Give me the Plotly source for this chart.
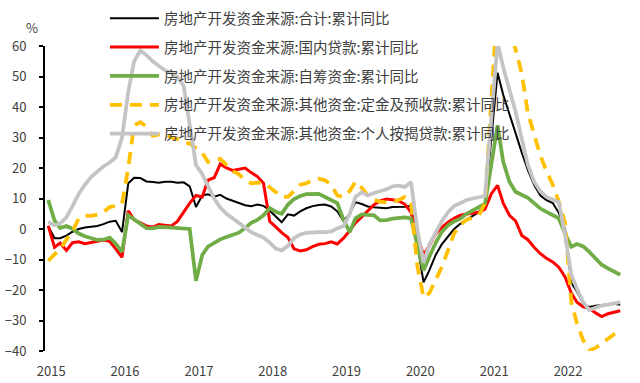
import pandas as pd
import plotly.graph_objects as go

# Monthly observations, Jan 2015 - Oct 2022
months = pd.date_range("2015-01-01", "2022-10-01", freq="MS")

series_names = [
    "房地产开发资金来源:合计:累计同比",
    "房地产开发资金来源:国内贷款:累计同比",
    "房地产开发资金来源:自筹资金:累计同比",
    "房地产开发资金来源:其他资金:定金及预收款:累计同比",
    "房地产开发资金来源:其他资金:个人按揭贷款:累计同比",
]

total = [
    1.0, -3.0, -3.0, -2.2, -0.9, 0.0, 0.5, 0.8, 1.0, 1.6, 2.4, 2.7,
    -1.0, 15.0, 16.8, 16.7, 15.6, 15.4, 15.2, 15.5, 15.5, 15.2, 15.3, 14.0,
    7.2, 11.0, 11.4, 10.6, 11.2, 10.0, 9.2, 8.6, 7.8, 7.5, 8.0, 7.6,
    6.0, 4.0, 2.2, 4.8, 4.4, 5.8, 6.8, 7.5, 7.9, 8.0, 7.4, 5.8,
    2.6, 5.0, 8.8, 8.2, 7.4, 7.1, 7.0, 6.8, 7.2, 7.2, 7.3, 7.6,
    -5.0, -17.5, -13.5, -8.5, -5.0, -2.3, 0.0, 1.7, 3.1, 4.4, 5.6, 8.1,
    29.5, 51.2, 44.0, 38.0, 31.5, 25.0, 19.3, 14.5, 11.0, 9.5, 8.5, 5.3,
    0.0, -17.7, -20.5, -24.5, -25.6, -25.2, -24.9, -24.6, -24.5, -24.8,
]

domestic_loans = [
    1.0, -6.0, -4.6, -7.0, -4.5, -4.2, -4.8, -4.3, -4.0, -3.6, -4.0, -6.5,
    -9.3, 6.0, 3.0, 2.0, 1.0, 0.6, 1.5, 1.2, 1.0, 2.5, 5.5, 8.5,
    11.0, 10.5, 16.0, 16.8, 21.3, 20.0, 19.2, 19.5, 20.0, 18.5, 17.2, 15.0,
    2.5, 0.6, -1.2, -2.8, -6.5, -7.2, -6.8, -5.8, -5.0, -4.8, -4.2, -4.9,
    -3.0, -0.5, 2.0, 4.0, 6.0, 8.0, 9.2, 9.8, 9.6, 9.2, 8.1, 5.5,
    -2.0, -8.5, -5.4, -1.5, 0.5, 2.2, 3.5, 4.5, 4.9, 5.2, 5.5, 6.5,
    11.5, 14.3, 8.5, 4.5, 2.7, -2.1, -3.5, -6.0, -8.1, -9.6, -10.8, -12.5,
    -15.7, -21.0, -24.0, -25.5, -26.0, -27.5, -28.7, -27.8, -27.2, -26.8,
]

self_raised = [
    9.5, 2.8, 0.3, 1.0, 0.1, -1.5, -2.4, -3.1, -3.6, -3.5, -2.8, -4.8,
    -7.5, 4.5, 3.2, 1.5, 0.3, 0.2, 0.7, 0.6, 0.5, 0.3, 0.2, 0.0,
    -17.0, -8.5, -5.8, -4.5, -3.4, -2.6, -1.9, -1.2, 0.3, 2.0, 3.0, 4.5,
    6.8, 5.6, 5.0, 8.0, 9.8, 10.8, 11.4, 11.6, 11.5, 10.5, 9.5, 8.5,
    3.0, -1.0, 3.5, 4.8, 4.6, 4.5, 2.8, 2.9, 3.4, 3.6, 3.8, 3.5,
    -5.0, -13.6, -9.0, -4.5, -1.0, 1.2, 2.5, 3.4, 5.0, 6.2, 7.2, 8.3,
    21.0, 34.0, 22.0, 15.5, 12.2, 11.2, 10.2, 8.5, 6.7, 5.6, 4.6, 3.5,
    -1.5, -5.8, -4.9, -5.7, -7.5, -9.8, -11.7, -12.9, -13.8, -15.0,
]

deposits_prepayments = [
    -10.4, -8.2, -6.5, -3.5, -0.8, 3.5, 4.4, 4.3, 4.7, 5.5, 7.2, 7.6,
    8.2, 20.0, 34.0, 35.0, 33.5, 30.5, 31.0, 31.0, 30.0, 29.5, 28.5, 28.0,
    26.5, 25.0, 22.0, 22.5, 23.0, 21.0, 19.0, 18.0, 16.0, 15.0, 15.2, 15.0,
    13.7, 12.0, 10.5, 10.5, 12.5, 14.5, 15.0, 16.0, 16.5, 16.0, 14.5, 11.0,
    10.5, 12.5, 15.5, 13.5, 11.0, 9.5, 9.0, 8.7, 8.9, 9.5, 10.5, 8.5,
    -12.0, -22.5, -21.0, -17.0, -12.5, -7.0, -1.5, 1.5, 3.0, 3.7, 4.5, 8.5,
    41.0, 75.0, 70.0, 65.0, 59.0, 51.0, 38.0, 31.0, 24.0, 19.0, 14.5, 9.0,
    2.0, -24.0, -31.0, -36.5, -39.8, -39.0, -37.5, -35.8, -34.5, -33.8,
]

mortgages = [
    2.3, 1.2, 1.8, 3.8, 7.5, 11.5, 14.5, 17.0, 18.8, 20.5, 21.8, 23.5,
    30.0, 45.0, 55.0, 58.5, 57.0, 55.0, 53.5, 52.0, 51.2, 49.8, 47.0, 34.0,
    21.0, 18.0, 14.5, 10.0, 7.0, 5.0, 3.5, 2.0, 0.5, -1.0, -2.0, -2.8,
    -4.5, -6.5, -7.0, -5.5, -3.0, -1.8, -1.3, -1.0, -1.0, -1.0, -0.8, 0.2,
    1.0, 5.0, 10.5, 12.0, 11.0, 11.8, 12.3, 13.0, 14.0, 14.2, 13.8, 15.4,
    0.0, -11.0, -5.0, -1.0, 2.5, 5.5, 7.5, 8.5, 9.5, 10.0, 10.4, 10.8,
    36.0, 61.0, 53.0, 46.0, 38.5, 29.5, 21.0, 15.5, 12.3, 10.5, 9.7, 8.8,
    -2.0, -15.0, -19.6, -24.0, -26.6, -25.9, -25.1, -24.8, -24.4, -24.0,
]

years = list(range(2015, 2023))
y_ticks = list(range(-40, 61, 10))

styles = [
    dict(color="#000000", width=2),
    dict(color="#FF0000", width=3),
    dict(color="#70AD47", width=3.75),
    dict(color="#FFC000", width=3.75, dash="12px,8px"),
    dict(color="#C4C4C4", width=3.75),
]
all_values = [total, domestic_loans, self_raised, deposits_prepayments, mortgages]

fig = go.Figure()
for i, (name, vals, st) in enumerate(zip(series_names, all_values, styles)):
    fig.add_trace(go.Scatter(
        x=months, y=vals, mode="lines", name=name,
        line=st, legendgroup=f"g{i}", hoverinfo="skip",
    ))

x_range = ["2014-12-16", "2022-12-23"]
font_family = "Noto Sans CJK SC, Noto Sans, sans-serif"

fig.update_layout(
    width=640, height=383,
    margin=dict(l=45, r=3, t=46, b=32, autoexpand=False),
    plot_bgcolor="white", paper_bgcolor="white",
    font=dict(family=font_family, size=13, color="#404040"),
    showlegend=True,
    legend=dict(
        xref="container", yref="container",
        x=0.164, y=0.994, xanchor="left", yanchor="top",
        bgcolor="rgba(0,0,0,0)", borderwidth=0,
        font=dict(family=font_family, size=14.5, color="#404040"),
        traceorder="grouped", tracegroupgap=7, itemwidth=49,
    ),
    xaxis=dict(
        type="date", range=x_range, automargin=False,
        tickvals=[f"{y}-01-16" for y in years],
        ticktext=[str(y) for y in years],
        showline=False, ticks="", showgrid=False, zeroline=False,
        tickfont=dict(size=13, color="#404040"),
        ticklabelstandoff=11,
    ),
    xaxis2=dict(
        type="date", range=x_range, overlaying="x", anchor="free",
        position=0.4, side="bottom", automargin=False,
        showline=True, linecolor="#000000", linewidth=2,
        ticks="outside", ticklen=5, tickwidth=2, tickcolor="#000000",
        tickvals=[f"{y}-01-01" for y in years],
        showticklabels=False, showgrid=False, zeroline=False,
        layer="below traces",
    ),
    yaxis=dict(
        range=[-40, 60], tickvals=y_ticks, automargin=False,
        showline=True, linecolor="#000000", linewidth=2,
        ticks="outside", ticklen=4, tickwidth=2, tickcolor="#000000",
        showgrid=False, zeroline=False,
        tickfont=dict(size=13, color="#404040"),
        ticklabelstandoff=10,
    ),
    annotations=[dict(
        text="%", xref="paper", yref="paper", x=-0.022, y=1.062,
        xanchor="center", yanchor="middle", showarrow=False,
        font=dict(size=13, color="#404040"),
    )],
)

fig.write_html(
    "out.html",
    config={"displayModeBar": False, "staticPlot": True},
    post_script="document.body.style.margin='0px';",
)
